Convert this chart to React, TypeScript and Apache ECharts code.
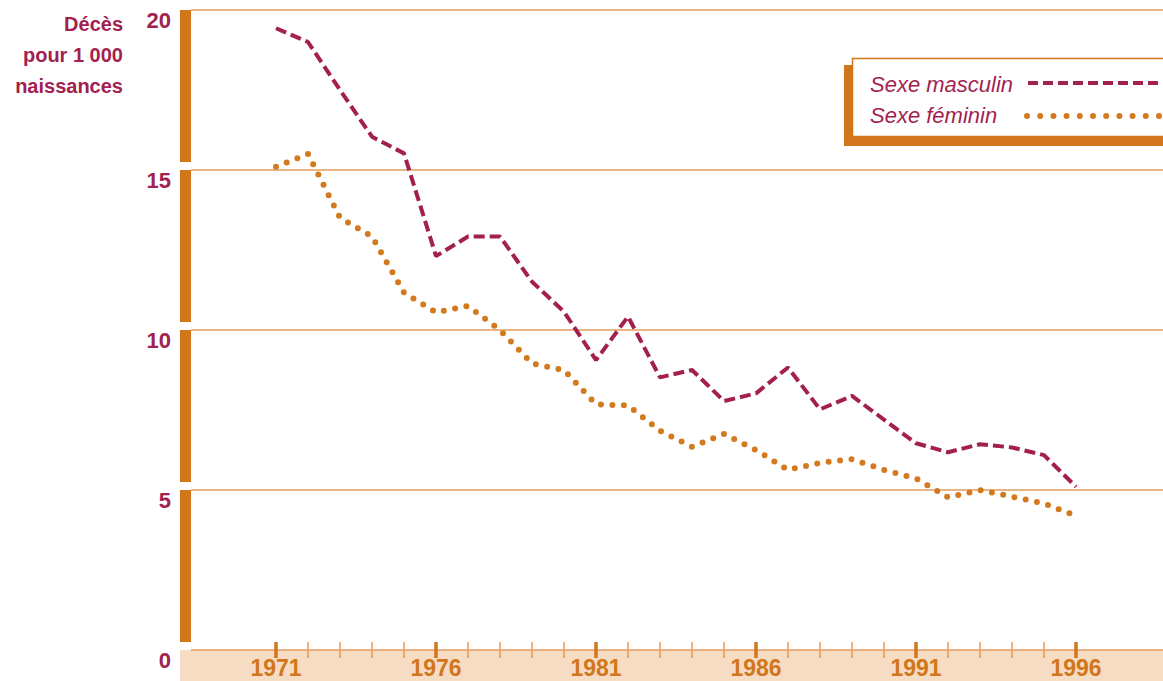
import React, { useEffect, useRef } from "react";
import * as echarts from "echarts";

const years = [
  1971, 1972, 1973, 1974, 1975, 1976, 1977, 1978, 1979, 1980, 1981, 1982, 1983,
  1984, 1985, 1986, 1987, 1988, 1989, 1990, 1991, 1992, 1993, 1994, 1995, 1996,
];
const masculin = [
  19.43, 19.0, 17.5, 16.04, 15.52, 12.31, 12.92, 12.92, 11.51, 10.57, 9.06, 10.42, 8.52,
  8.75, 7.78, 8.02, 8.83, 7.52, 7.94, 7.2, 6.46, 6.18, 6.43, 6.33, 6.09, 5.1,
];
const feminin = [
  15.1, 15.5, 13.51, 12.92, 11.17, 10.55, 10.75, 10.0, 8.95, 8.75, 7.68, 7.64, 6.85,
  6.35, 6.75, 6.25, 5.63, 5.85, 5.96, 5.63, 5.36, 4.77, 5.0, 4.79, 4.58, 4.19,
];
const labelYears = [1971, 1976, 1981, 1986, 1991, 1996];
const yTicks = [0, 5, 10, 15, 20];
const yTitle = ["Décès", "pour 1 000", "naissances"];
const legendNames = ["Sexe masculin", "Sexe féminin"];

const CRIMSON = "#A31F4F";
const ORANGE = "#D2761C";
const DOT = "#D47A1E";
const GRID = "#E19C5E";
const BAND = "#F6DCC2";
const FONT = "'Liberation Sans', Arial, sans-serif";

const X_MIN = 1971 - 85 / 32;
const X_MAX = 1971 + 887 / 32;

export default function App() {
  const ref = useRef<HTMLDivElement>(null);

  useEffect(() => {
    document.body.style.margin = "0";
    const chart = echarts.init(ref.current!, null, { renderer: "svg" });

    const option: any = {
      animation: false,
      backgroundColor: "#ffffff",
      grid: { left: 191, right: 0, top: 10, bottom: 31 },
      xAxis: {
        type: "value",
        min: X_MIN,
        max: X_MAX,
        axisLine: { show: false },
        axisTick: { show: false },
        splitLine: { show: false },
        axisLabel: {
          customValues: labelYears,
          color: ORANGE,
          fontFamily: FONT,
          fontWeight: "bold",
          fontSize: 23,
          margin: 6,
          formatter: (v: number) => String(v),
        },
      },
      yAxis: {
        type: "value",
        min: 0,
        max: 20,
        interval: 5,
        axisLine: { show: false },
        axisTick: { show: false },
        splitLine: { show: true, lineStyle: { color: GRID, width: 1.5 } },
        axisLabel: {
          color: CRIMSON,
          fontFamily: FONT,
          fontWeight: "bold",
          fontSize: 22,
          margin: 20,
          verticalAlign: "top",
          lineHeight: 20,
          formatter: (v: number) => (yTicks.includes(v) ? String(v) : ""),
        },
      },
      graphic: [
        {
          type: "rect",
          z: -1,
          shape: { x: 180, y: 650, width: 983, height: 31 },
          style: { fill: BAND },
        },
        {
          type: "text",
          x: 123,
          y: 8,
          style: {
            text: yTitle.join("\n"),
            fill: CRIMSON,
            font: `bold 20px ${FONT}`,
            lineHeight: 31,
            align: "right",
            verticalAlign: "top",
          },
        },
        {
          type: "rect",
          z: 5,
          shape: { x: 844, y: 65, width: 330, height: 81 },
          style: { fill: ORANGE },
        },
        {
          type: "rect",
          z: 6,
          shape: { x: 852.5, y: 58.5, width: 330, height: 78 },
          style: { fill: "#ffffff", stroke: ORANGE, lineWidth: 1.5 },
        },
        {
          type: "text",
          z: 7,
          x: 870,
          y: 84,
          style: {
            text: legendNames[0],
            fill: CRIMSON,
            font: `italic 22px ${FONT}`,
            verticalAlign: "middle",
          },
        },
        {
          type: "text",
          z: 7,
          x: 870,
          y: 115,
          style: {
            text: legendNames[1],
            fill: CRIMSON,
            font: `italic 22px ${FONT}`,
            verticalAlign: "middle",
          },
        },
        {
          type: "line",
          z: 7,
          shape: { x1: 1028, y1: 83, x2: 1158, y2: 83 },
          style: { stroke: CRIMSON, lineWidth: 4, lineDash: [10, 5] },
        },
        {
          type: "line",
          z: 7,
          shape: { x1: 1027, y1: 116, x2: 1162, y2: 116 },
          style: { stroke: DOT, lineWidth: 6, lineDash: [0, 13.2], lineCap: "round" },
        },
      ],
      series: [
        {
          name: "bar",
          type: "custom",
          silent: true,
          clip: false,
          data: yTicks.slice(0, 4).map((v) => [X_MIN, v]),
          renderItem: (params: any, api: any) => {
            const v = api.value(1);
            const bottom = api.coord([X_MIN, v]);
            const top = api.coord([X_MIN, v + 5]);
            return {
              type: "rect",
              shape: {
                x: bottom[0] - 11,
                y: top[1],
                width: 11,
                height: bottom[1] - top[1] - 8,
              },
              style: { fill: ORANGE },
            };
          },
        },
        {
          name: "ticks",
          type: "custom",
          silent: true,
          clip: false,
          data: years.map((y) => [y, 0]),
          renderItem: (params: any, api: any) => {
            const yr = api.value(0);
            const p = api.coord([yr, 0]);
            const major = labelYears.includes(yr);
            return {
              type: "line",
              shape: { x1: p[0], y1: p[1] - 8, x2: p[0], y2: p[1] + 8 },
              style: { stroke: major ? ORANGE : "#E39A57", lineWidth: major ? 3.5 : 1.5 },
            };
          },
        },
        {
          name: legendNames[0],
          type: "line",
          data: years.map((y, i) => [y, masculin[i]]),
          showSymbol: false,
          symbol: "none",
          lineStyle: { color: CRIMSON, width: 4, type: [11, 5] },
          z: 3,
        },
        {
          name: legendNames[1],
          type: "line",
          data: years.map((y, i) => [y, feminin[i]]),
          showSymbol: false,
          symbol: "none",
          lineStyle: { color: DOT, width: 6, type: [0, 11.5], cap: "round" },
          z: 3,
        },
      ],
    };

    chart.setOption(option);
    return () => chart.dispose();
  }, []);

  return <div ref={ref} style={{ width: 1163, height: 681 }} />;
}
